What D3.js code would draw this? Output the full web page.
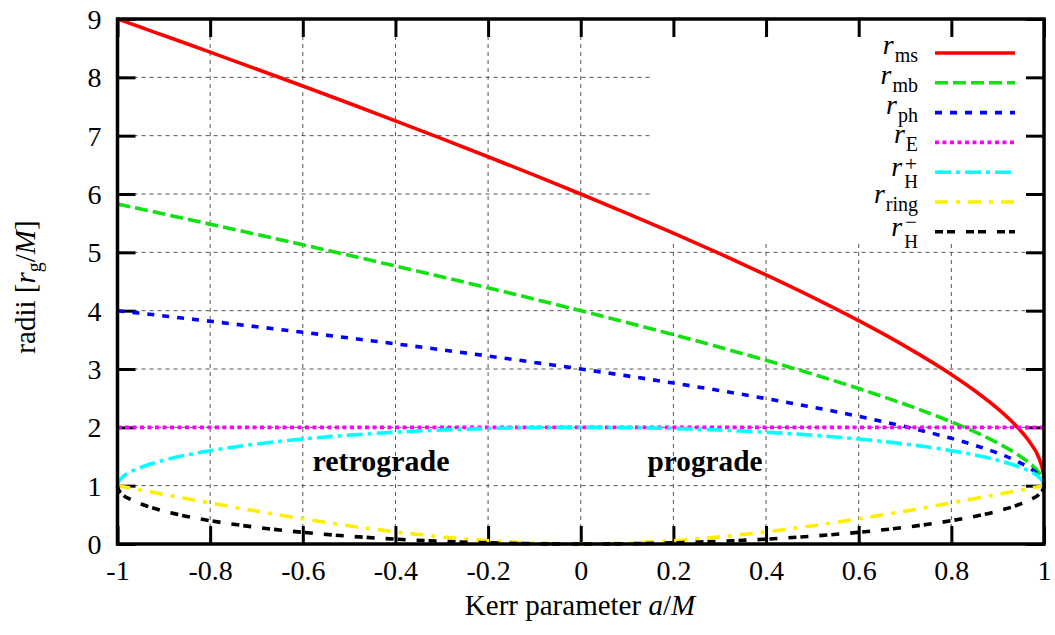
<!DOCTYPE html>
<html>
<head>
<meta charset="utf-8">
<script src="https://cdn.jsdelivr.net/npm/d3@7"></script>
<style>
  html, body { margin: 0; padding: 0; background: #fff; }
  svg { display: block; }
  text { font-family: "Liberation Serif", "Times New Roman", serif; fill: #000; }
</style>
</head>
<body>
<svg id="chart" width="1055" height="635"></svg>
<script>
// ---------------- data ----------------
const aVals = [-1, -0.999, -0.99, -0.97, -0.94, -0.9, -0.85, -0.8, -0.7, -0.6, -0.5, -0.4, -0.3, -0.2, -0.1, 0,
               0.1, 0.2, 0.3, 0.4, 0.5, 0.6, 0.7, 0.8, 0.85, 0.9, 0.94, 0.97, 0.99, 0.999, 1];
const rMS = [9.000, 8.997, 8.972, 8.916, 8.831, 8.717, 8.575, 8.432, 8.143, 7.851, 7.555, 7.254, 6.949, 6.639, 6.323, 6.000,
             5.669, 5.330, 4.979, 4.614, 4.233, 3.829, 3.393, 2.907, 2.632, 2.321, 2.024, 1.738, 1.455, 1.182, 1.000];
const rMB = [5.828, 5.827, 5.811, 5.777, 5.726, 5.657, 5.570, 5.483, 5.308, 5.130, 4.949, 4.766, 4.580, 4.391, 4.198, 4.000,
             3.797, 3.589, 3.373, 3.149, 2.914, 2.665, 2.395, 2.094, 1.925, 1.732, 1.550, 1.376, 1.210, 1.064, 1.000];
const rPH = [4.000, 3.999, 3.991, 3.973, 3.946, 3.910, 3.865, 3.819, 3.725, 3.630, 3.532, 3.432, 3.329, 3.223, 3.113, 3.000,
             2.882, 2.759, 2.630, 2.493, 2.347, 2.189, 2.013, 1.811, 1.694, 1.558, 1.426, 1.296, 1.168, 1.052, 1.000];
const rHp = [1.000, 1.045, 1.141, 1.243, 1.341, 1.436, 1.527, 1.600, 1.714, 1.800, 1.866, 1.917, 1.954, 1.980, 1.995, 2.000,
             1.995, 1.980, 1.954, 1.917, 1.866, 1.800, 1.714, 1.600, 1.527, 1.436, 1.341, 1.243, 1.141, 1.045, 1.000];
const rHm = [1.000, 0.955, 0.859, 0.757, 0.659, 0.564, 0.473, 0.400, 0.286, 0.200, 0.134, 0.083, 0.046, 0.020, 0.005, 0.000,
             0.005, 0.020, 0.046, 0.083, 0.134, 0.200, 0.286, 0.400, 0.473, 0.564, 0.659, 0.757, 0.859, 0.955, 1.000];
const aE = [-1, 1];
const rE = [2, 2];
const aRing = [-1, 0, 1];
const rRing = [1, 0, 1];

const xTicks = [-1, -0.8, -0.6, -0.4, -0.2, 0, 0.2, 0.4, 0.6, 0.8, 1];
const xTickLabels = ["-1", "-0.8", "-0.6", "-0.4", "-0.2", "0", "0.2", "0.4", "0.6", "0.8", "1"];
const yTicks = [0, 1, 2, 3, 4, 5, 6, 7, 8, 9];
const yTickLabels = ["0", "1", "2", "3", "4", "5", "6", "7", "8", "9"];

// ---------------- layout ----------------
const svg = d3.select("#chart");
const X0 = 117.5, X1 = 1044, Y0 = 544, Y1 = 19;
const x = d3.scaleLinear().domain([-1, 1]).range([X0, X1]);
const y = d3.scaleLinear().domain([0, 9]).range([Y0, Y1]);

// grid
const grid = svg.append("g").attr("stroke", "#444").attr("stroke-width", 0.9).attr("stroke-dasharray", "4,4");
xTicks.slice(1, -1).forEach(v => {
  grid.append("line").attr("x1", x(v)).attr("x2", x(v)).attr("y1", Y0).attr("y2", Y1);
});
yTicks.slice(1, -1).forEach(v => {
  grid.append("line").attr("x1", X0).attr("x2", X1).attr("y1", y(v)).attr("y2", y(v));
});
// key area masks the grid
svg.append("rect").attr("x", 651).attr("y", Y1 + 2).attr("width", X1 - 653).attr("height", 244 - Y1 - 2).attr("fill", "#fff");

// axes with inward ticks on all sides
const tickLen = 18;
const axB = d3.axisBottom(x).tickValues(xTicks).tickSize(-tickLen).tickFormat((d, i) => xTickLabels[i]);
const axT = d3.axisTop(x).tickValues(xTicks).tickSize(-tickLen).tickFormat("");
const axL = d3.axisLeft(y).tickValues(yTicks).tickSize(-tickLen).tickFormat((d, i) => yTickLabels[i]);
const axR = d3.axisRight(y).tickValues(yTicks).tickSize(-tickLen).tickFormat("");

function styleAxis(g) {
  g.select(".domain").remove();
  g.selectAll(".tick line").attr("stroke", "#000").attr("stroke-width", 3);
  g.selectAll(".tick text").style("font-family", "'Liberation Serif', serif").style("font-size", "28px").attr("fill", "#000");
}
const gB = svg.append("g").attr("transform", `translate(0,${Y0})`).call(axB).call(styleAxis);
gB.selectAll(".tick text").attr("dy", "0.71em").attr("y", 16);
svg.append("g").attr("transform", `translate(0,${Y1})`).call(axT).call(styleAxis);
const gL = svg.append("g").attr("transform", `translate(${X0},0)`).call(axL).call(styleAxis);
gL.selectAll(".tick text").attr("x", -16).attr("dy", "0.34em");
svg.append("g").attr("transform", `translate(${X1},0)`).call(axR).call(styleAxis);

// series
const series = [
  { a: aVals, r: rMS, color: "#ff0000", dash: null, sub: "ms" },
  { a: aVals, r: rMB, color: "#11e011", dash: "13,5", sub: "mb" },
  { a: aVals, r: rPH, color: "#0000ff", dash: "7,8", sub: "ph" },
  { a: aE, r: rE, color: "#ff00ff", dash: "4,3.5", sub: "E" },
  { a: aVals, r: rHp, color: "#00ffff", dash: "16,5,4,5", sub: "H", sup: "+" },
  { a: aRing, r: rRing, color: "#ffee00", dash: "13,8,4,8", sub: "ring" },
  { a: aVals, r: rHm, color: "#000000", dash: "8,4,8,11", sub: "H", sup: "\u2212" }
];

const line = d3.line().x(d => x(d[0])).y(d => y(d[1])).curve(d3.curveMonotoneX);
series.forEach(s => {
  const pts = s.a.map((v, i) => [v, s.r[i]]);
  svg.append("path").datum(pts).attr("d", line)
    .attr("fill", "none").attr("stroke", s.color).attr("stroke-width", 3.6)
    .attr("stroke-dasharray", s.dash);
});

// border
svg.append("rect").attr("x", X0).attr("y", Y1).attr("width", X1 - X0).attr("height", Y0 - Y1)
  .attr("fill", "none").attr("stroke", "#000").attr("stroke-width", 3.5);

// region labels
svg.append("text").attr("x", 381).attr("y", 471).attr("text-anchor", "middle")
  .attr("font-weight", "bold").attr("font-size", 29).attr("textLength", 137).attr("lengthAdjust", "spacingAndGlyphs").text("retrograde");
svg.append("text").attr("x", 705).attr("y", 471).attr("text-anchor", "middle")
  .attr("font-weight", "bold").attr("font-size", 29).attr("textLength", 115).attr("lengthAdjust", "spacingAndGlyphs").text("prograde");

// axis titles
const xt = svg.append("text").attr("x", 580).attr("y", 615).attr("text-anchor", "middle").attr("font-size", 29);
xt.append("tspan").text("Kerr parameter ");
xt.append("tspan").attr("font-style", "italic").text("a");
xt.append("tspan").text("/");
xt.append("tspan").attr("font-style", "italic").text("M");

const yt = svg.append("text").attr("transform", "translate(35,287) rotate(-90)").attr("text-anchor", "middle").attr("font-size", 29);
yt.append("tspan").text("radii [");
yt.append("tspan").attr("font-style", "italic").text("r");
yt.append("tspan").attr("font-size", 20).attr("dy", 6).text("g");
yt.append("tspan").attr("dy", -6).text("/");
yt.append("tspan").attr("font-style", "italic").text("M");
yt.append("tspan").text("]");

// legend
const legRow0 = 53, legStep = 29.8, legX0 = 935, legX1 = 1015, legTextRight = 918;
series.forEach((s, i) => {
  const cy = legRow0 + i * legStep;
  svg.append("line").attr("x1", legX0).attr("x2", legX1).attr("y1", cy).attr("y2", cy)
    .attr("stroke", s.color).attr("stroke-width", 3.6).attr("stroke-dasharray", s.dash);
  if (s.sup) {
    // r with stacked sub/superscript
    const t = svg.append("text").attr("x", legTextRight).attr("y", cy + 4).attr("text-anchor", "end").attr("font-size", 28);
    t.append("tspan").attr("font-style", "italic").text("r");
    t.append("tspan").attr("font-size", 19).attr("dx", 2).attr("dy", 12).text(s.sub);
    svg.append("text").attr("x", 911).attr("y", cy + (s.sup === "+" ? -1 : -3)).attr("text-anchor", "middle")
      .attr("font-size", 21).text(s.sup);
  } else {
    const t = svg.append("text").attr("x", legTextRight).attr("y", cy + 1).attr("text-anchor", "end").attr("font-size", 28);
    t.append("tspan").attr("font-style", "italic").text("r");
    t.append("tspan").attr("font-size", 20).attr("dx", 1).attr("dy", 8).text(s.sub);
  }
});
</script>
</body>
</html>
